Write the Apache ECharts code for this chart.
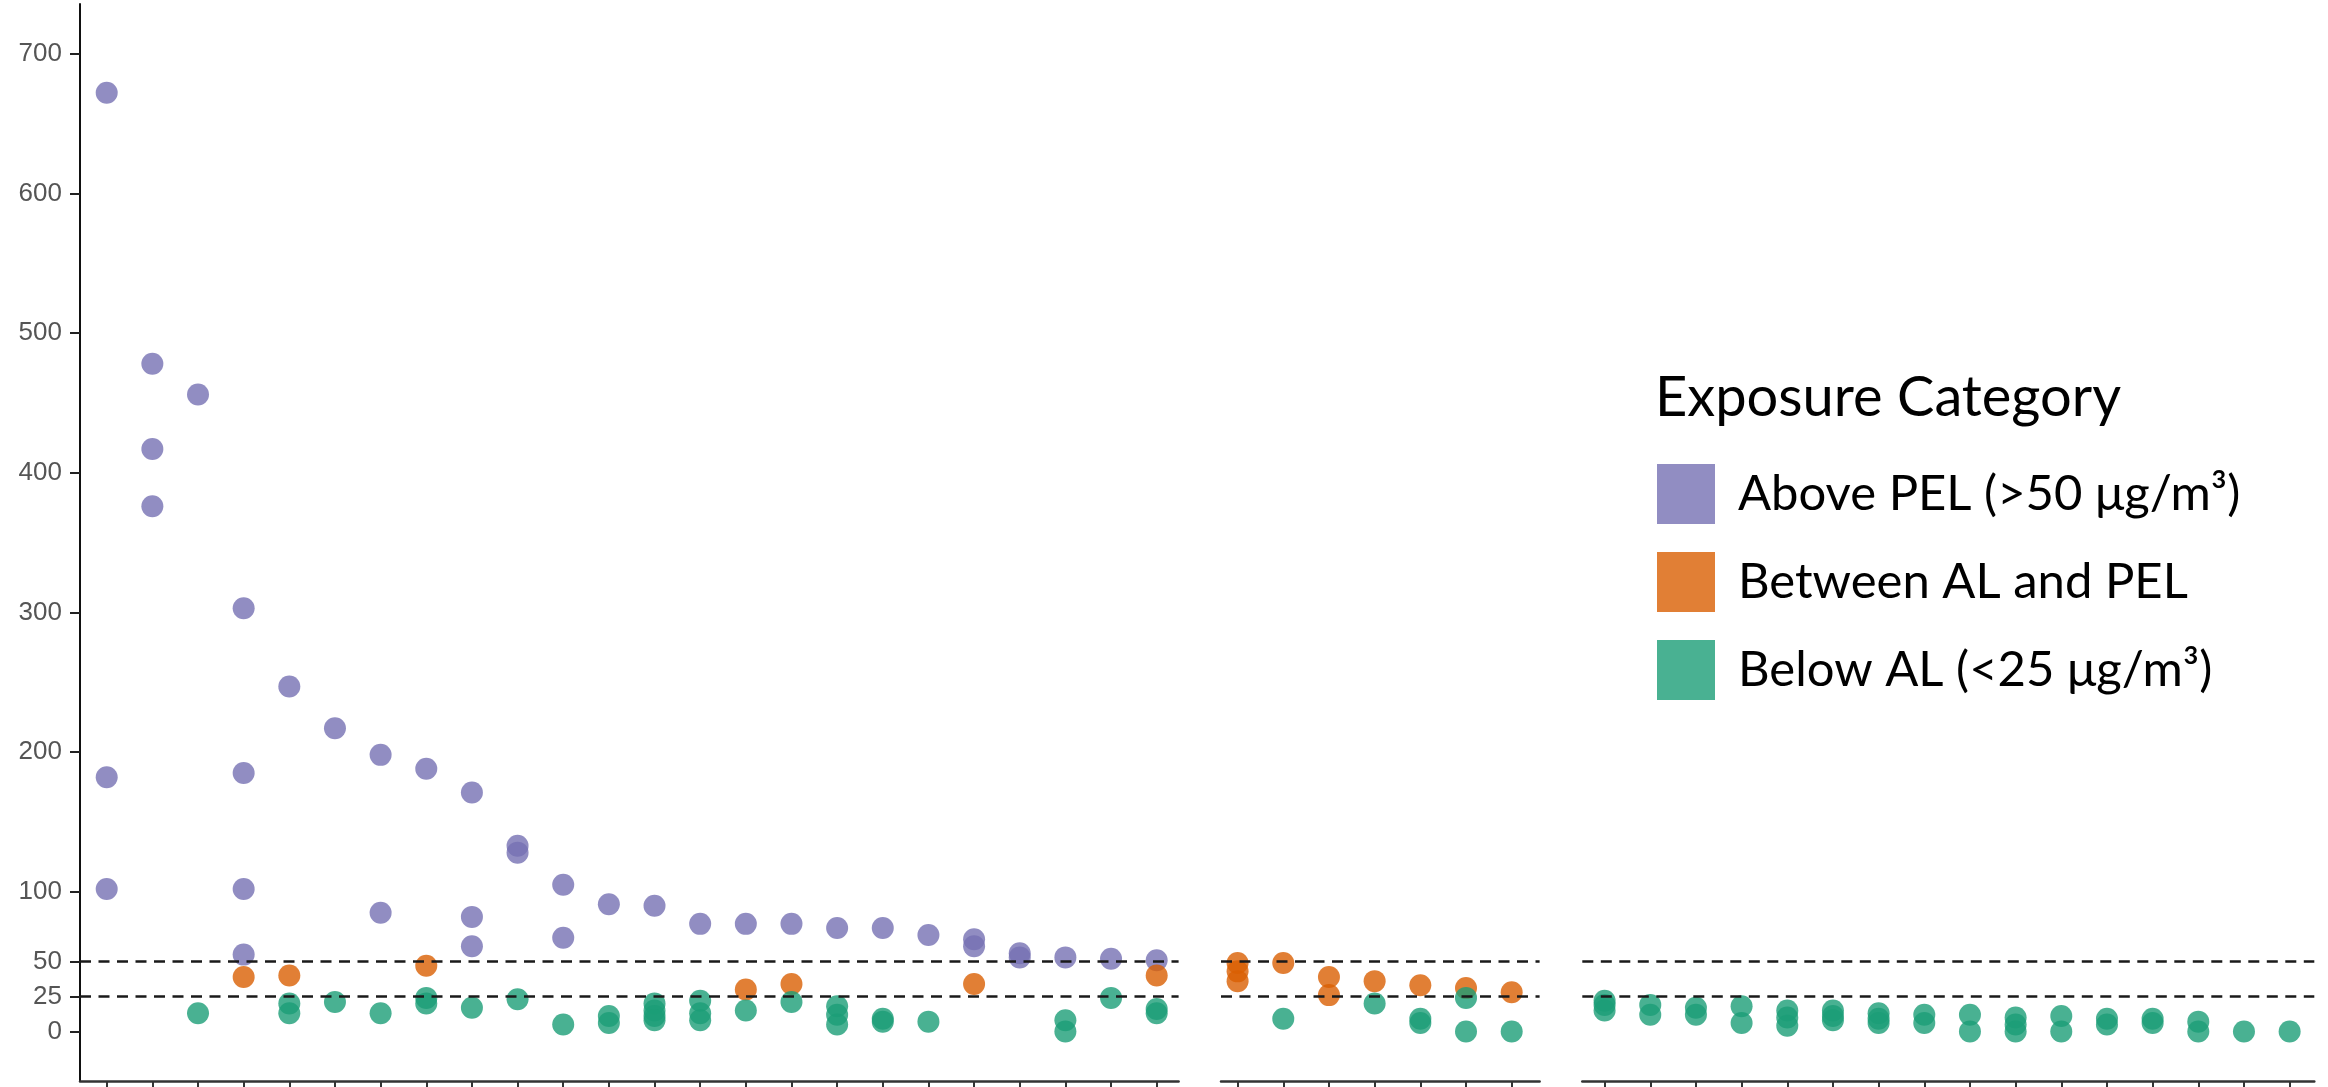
<!DOCTYPE html>
<html>
<head>
<meta charset="utf-8">
<script src="https://cdn.jsdelivr.net/npm/echarts@6/dist/echarts.min.js"></script>
<style>
  html, body { margin: 0; padding: 0; background: #ffffff; }
  #chart { width: 2328px; height: 1087px; }
</style>
</head>
<body>
<div id="chart"></div>
<script>
// Exposure limits (µg/m³)
const PEL = 50;
const AL = 25;

// Y-axis tick labels
const yTicks = [0, 25, 50, 100, 200, 300, 400, 500, 600, 700];

// Measured concentrations, one inner list per sample group (left to right)
const groupA = [
  [672, 182, 102],
  [478, 417, 376],
  [456, 13],
  [303, 185, 102, 55, 39],
  [247, 40, 20, 13],
  [217, 21],
  [198, 85, 13],
  [188, 47, 24, 20],
  [171, 82, 61, 17],
  [133, 128, 23],
  [105, 67, 5],
  [91, 11, 6],
  [90, 20, 15, 11, 8],
  [77, 22, 13, 8],
  [77, 30, 15],
  [77, 34, 21],
  [74, 18, 12, 5],
  [74, 9, 7],
  [69, 7],
  [66, 61, 34],
  [56, 53],
  [53, 8, 0],
  [52, 24],
  [51, 40, 16, 13]
];

const groupB = [
  [49, 43, 36],
  [49, 9],
  [39, 26],
  [36, 20],
  [33, 9, 6],
  [31, 24, 0],
  [28, 0]
];

const groupC = [
  [22, 19, 15],
  [19, 12],
  [17, 12],
  [18, 6],
  [15, 10, 4],
  [15, 11, 8],
  [13, 9, 6],
  [12, 6],
  [12, 0],
  [10, 5, 0],
  [11, 0],
  [9, 5],
  [9, 6],
  [7, 0],
  [0],
  [0]
];

// Exposure categories and their colours (Dark2)
const levels = ['Above PEL (>50 μg/m³)', 'Between AL and PEL', 'Below AL (<25 μg/m³)'];
const levelColors = ['#7570B3', '#D95F02', '#1B9E77'];
const POINT_OPACITY = 0.8;

function levelOf(v) {
  if (v > PEL) return 0;
  if (v >= AL) return 1;
  return 2;
}

// Facet layout: pixel placement and the category-unit padding on each side
const facets = [
  { groups: groupA, left: 80,     width: 1098.6, padL: 0.585, padR: 0.48 },
  { groups: groupB, left: 1221,   width: 318.6,  padL: 0.363, padR: 0.611 },
  { groups: groupC, left: 1582.3, width: 732,    padL: 0.488, padR: 0.54 }
];

const Y_MIN = -35.5;
const Y_MAX = 735.6;

const grids = [], xAxes = [], yAxes = [], series = [];

facets.forEach((f, p) => {
  const n = f.groups.length;
  grids.push({ left: f.left, width: f.width, top: 4, height: 1077, containLabel: false });

  xAxes.push({
    type: 'value',
    gridIndex: p,
    min: -f.padL,
    max: n - 1 + f.padR,
    axisLine: { show: true, onZero: false, lineStyle: { color: '#333333', width: 2.5 } },
    axisTick: {
      show: true, length: 7, inside: false,
      lineStyle: { color: '#333333', width: 2 },
      customValues: f.groups.map((_, i) => i)
    },
    axisLabel: { show: false },
    splitLine: { show: false }
  });

  yAxes.push({
    type: 'value',
    gridIndex: p,
    min: Y_MIN,
    max: Y_MAX,
    show: p === 0,
    axisLine: { show: p === 0, onZero: false, lineStyle: { color: '#111111', width: 2 } },
    axisTick: {
      show: p === 0, length: 10,
      lineStyle: { color: '#222222', width: 2 },
      customValues: yTicks
    },
    axisLabel: {
      show: p === 0,
      customValues: yTicks,
      fontSize: 26,
      fontFamily: 'Liberation Sans, Arial, sans-serif',
      color: '#555555',
      margin: 18
    },
    splitLine: { show: false }
  });

  levels.forEach((name, l) => {
    const pts = [];
    f.groups.forEach((vals, i) => {
      vals.forEach(v => { if (levelOf(v) === l) pts.push([i, v]); });
    });
    const s = {
      type: 'scatter',
      name: name,
      xAxisIndex: p,
      yAxisIndex: p,
      data: pts,
      symbol: 'circle',
      symbolSize: 22,
      itemStyle: { color: levelColors[l], opacity: POINT_OPACITY },
      silent: true,
      emphasis: { disabled: true }
    };
    if (l === 2) {
      s.markLine = {
        silent: true,
        symbol: 'none',
        label: { show: false },
        lineStyle: { color: '#1a1a1a', width: 2.7, type: [11, 7.5], opacity: 1 },
        data: [{ yAxis: PEL }, { yAxis: AL }]
      };
    }
    series.push(s);
  });
});

const chart = echarts.init(document.getElementById('chart'), null, { renderer: 'canvas' });
chart.setOption({
  animation: false,
  backgroundColor: '#ffffff',
  grid: grids,
  xAxis: xAxes,
  yAxis: yAxes,
  legend: {
    data: levels.map((name, l) => ({
      name: name,
      itemStyle: { color: levelColors[l], opacity: POINT_OPACITY }
    })),
    orient: 'vertical',
    left: 1652,
    top: 459,
    icon: 'rect',
    itemWidth: 58,
    itemHeight: 60,
    itemGap: 28,
    selectedMode: false,
    textStyle: {
      fontSize: 49,
      fontFamily: 'Lato, sans-serif',
      color: '#000000',
      padding: [0, 0, 12, 18]
    }
  },
  graphic: [{
    type: 'text',
    left: 1655,
    top: 370,
    style: {
      text: 'Exposure Category',
      font: '56px Lato, sans-serif',
      fill: '#000000'
    }
  }],
  series: series
});
</script>
</body>
</html>
